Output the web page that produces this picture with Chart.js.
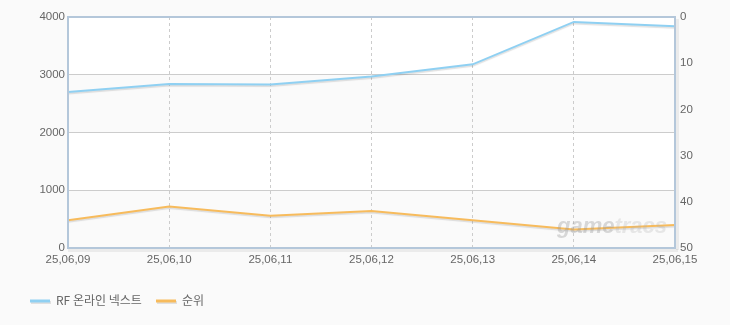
<!DOCTYPE html>
<html>
<head>
<meta charset="utf-8">
<script src="https://cdn.jsdelivr.net/npm/chart.js@4"></script>
<style>
  html, body { margin: 0; padding: 0; background: #fafafa; }
  #wrap { width: 730px; height: 325px; }
</style>
</head>
<body>
<div id="wrap"><canvas id="myChart" width="730" height="325"></canvas></div>
<script>
// DATOS DEL GRAFICO
const labels = ["25,06,09", "25,06,10", "25,06,11", "25,06,12", "25,06,13", "25,06,14", "25,06,15"];
const usuarios = [2700, 2840, 2830, 2970, 3180, 3915, 3840];
const ranking = [44, 41, 43, 42, 44, 46, 45];
const leftTicks = [0, 1000, 2000, 3000, 4000];
const rightTicks = [0, 10, 20, 30, 40, 50];
const seriesNames = ["RF 온라인 넥스트", "순위"];
const seriesColors = ["#8fd0f2", "#f7bb5c"];

const tickFont = { family: "'Liberation Sans', Arial, sans-serif", size: 11.5 };

// FONDO, BANDAS Y MARCO
const fondo = {
  id: "fondo",
  beforeDraw(chart) {
    const { ctx, chartArea: a, scales } = chart;
    ctx.save();
    ctx.fillStyle = "#fafafa";
    ctx.fillRect(0, 0, chart.width, chart.height);
    ctx.fillStyle = "#ffffff";
    ctx.fillRect(a.left, a.top, a.right - a.left, a.bottom - a.top);
    ctx.fillStyle = "#fafafa";
    for (let i = 0; i < leftTicks.length - 1; i += 2) {
      const y1 = scales.y.getPixelForValue(leftTicks[i]);
      const y2 = scales.y.getPixelForValue(leftTicks[i + 1]);
      ctx.fillRect(a.left, y2, a.right - a.left, y1 - y2);
    }
    ctx.restore();
  },
  beforeDatasetsDraw(chart) {
    const { ctx, chartArea: a } = chart;
    ctx.save();
    // sombra del eje inferior
    ctx.fillStyle = "rgba(0,0,0,0.06)";
    ctx.fillRect(a.left, a.bottom + 1, a.right - a.left + 3, 3);
    ctx.fillRect(a.right + 1, a.top + 2, 3, a.bottom - a.top);
    ctx.restore();
  },
  afterDatasetsDraw(chart) {
    const { ctx, chartArea: a } = chart;
    ctx.save();
    ctx.strokeStyle = "#b4c7da";
    ctx.lineWidth = 2;
    ctx.strokeRect(a.left, a.top, a.right - a.left, a.bottom - a.top);
    ctx.restore();
  },
  beforeDatasetDraw(chart) {
    chart.ctx.save();
    chart.ctx.shadowColor = "rgba(0,0,0,0.12)";
    chart.ctx.shadowOffsetY = 1.5;
    chart.ctx.shadowBlur = 1;
  },
  afterDatasetDraw(chart) {
    chart.ctx.restore();
  }
};

// MARCA DE AGUA Y LEYENDA
const extras = {
  id: "extras",
  afterDraw(chart) {
    const ctx = chart.ctx;
    ctx.save();
    ctx.font = "italic bold 22px 'Liberation Sans', Arial, sans-serif";
    ctx.textBaseline = "alphabetic";
    ctx.fillStyle = "rgba(150,150,150,0.35)";
    ctx.fillText("game", 557, 233);
    const w = ctx.measureText("game").width;
    ctx.fillStyle = "rgba(170,170,170,0.25)";
    ctx.fillText("tracs", 557 + w, 233);
    ctx.restore();

    ctx.save();
    ctx.font = "12px 'Noto Sans CJK KR', sans-serif";
    ctx.textBaseline = "middle";
    let x = 30;
    chart.data.datasets.forEach((ds) => {
      ctx.fillStyle = "rgba(0,0,0,0.1)";
      ctx.fillRect(x + 1, 301, 20, 3);
      ctx.fillStyle = ds.borderColor;
      ctx.fillRect(x, 299.5, 20, 3);
      ctx.fillStyle = "#666";
      ctx.fillText(ds.label, x + 26, 300);
      x += 126;
    });
    ctx.restore();
  }
};

const datasets = [
  {
    label: seriesNames[0],
    data: usuarios,
    borderColor: seriesColors[0],
    borderWidth: 2,
    pointRadius: 0,
    tension: 0,
    yAxisID: "y"
  },
  {
    label: seriesNames[1],
    data: ranking,
    borderColor: seriesColors[1],
    borderWidth: 2,
    pointRadius: 0,
    tension: 0,
    yAxisID: "y2"
  }
];

const config = {
  type: "line",
  data: { labels, datasets },
  options: {
    responsive: false,
    animation: false,
    layout: { padding: { top: 17, bottom: 54, left: 0, right: 0 } },
    plugins: { legend: { display: false }, tooltip: { enabled: false } },
    scales: {
      x: {
        offset: false,
        grid: { color: "#cccccc", lineWidth: 1, drawTicks: false },
        border: { display: false, dash: [3, 3] },
        ticks: { color: "#666", font: tickFont, padding: 5, maxRotation: 0, autoSkip: false },
        afterFit(scale) { scale.height = 23; }
      },
      y: {
        position: "left",
        min: 0,
        max: 4000,
        afterBuildTicks(scale) { scale.ticks = leftTicks.map((v) => ({ value: v })); },
        grid: { color: "#cccccc", drawTicks: false },
        border: { display: false },
        ticks: { color: "#666", font: tickFont, padding: 3, callback: (v) => String(v) },
        afterFit(scale) { scale.width = 68; }
      },
      y2: {
        position: "right",
        reverse: true,
        min: 0,
        max: 50,
        afterBuildTicks(scale) { scale.ticks = rightTicks.map((v) => ({ value: v })); },
        grid: { drawOnChartArea: false, drawTicks: false },
        border: { display: false },
        ticks: { color: "#666", font: tickFont, padding: 5, callback: (v) => String(v) },
        afterFit(scale) { scale.width = 55; }
      }
    }
  },
  plugins: [fondo, extras]
};

const myChart = document.getElementById("myChart");
window.grafica = new Chart(myChart, config);
</script>
</body>
</html>
